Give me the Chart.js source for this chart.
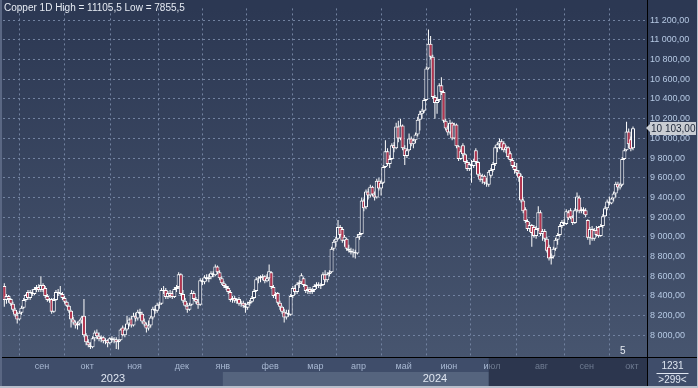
<!DOCTYPE html>
<html>
<head>
<meta charset="utf-8">
<script src="https://cdn.jsdelivr.net/npm/chart.js@4.4.1/dist/chart.umd.min.js"></script>
<style>
    html, body { margin: 0; padding: 0; background: #3f4d6a; }
    #wrap { position: relative; width: 698px; height: 388px; }
</style>
</head>
<body>
<div id="wrap"><canvas id="chart" width="698" height="388"></canvas></div>
<script>
// daily candles, Aug 2023 .. 1 Oct 2024 (one line per month)
const opens = [
    8500,8360,8400,8370,8320,8260,8210,8160,8230,8280,8360,8440,8380,8440,8420,8470,8490,8460,
    8510,8480,8400,8360,8370,8240,8360,8440,8430,8420,8380,8340,8300,8250,8160,8130,8100,8120,8150,8200,8000,
    7930,7900,7880,7970,8030,7990,7960,7980,7940,7950,7920,7970,7950,7960,7930,7950,8080,8000,8060,8120,8170,8100,
    8200,8170,8240,8220,8140,8110,8070,8100,8180,8270,8250,8310,8320,8460,8460,8390,8430,8430,8390,8470,8490,8620,
    8420,8350,8300,8260,8310,8430,8370,8340,8310,8560,8540,8590,8570,8590,8630,8610,8700,8640,8580,
    8530,8500,8480,8440,8360,8380,8350,8370,8320,8330,8300,8280,8320,8340,8380,8450,8570,8580,8600,8600,8550,8580,
    8640,8490,8400,8430,8330,8290,8240,8180,8230,8210,8400,8480,8440,8520,8540,8580,8510,8450,8470,8440,8460,
    8500,8520,8500,8510,8620,8560,8620,8640,8880,8950,8980,9100,9080,8960,8980,8880,8860,8840,8850,8830,
    9000,9030,9370,9300,9460,9420,9510,9430,9400,9570,9490,9550,9710,9870,9740,9790,9930,9900,10120,10000,10130,
    9900,9820,9880,10000,9940,9980,10040,10190,10250,10280,10390,10710,10960,10830,10420,10360,10390,10540,10470,10180,10100,
    10060,10160,10000,10140,9920,9790,9930,9840,9760,9690,9740,9720,9880,9760,9630,9580,9620,9550,9530,9620,
    9680,9740,9900,9940,9970,9950,9880,9910,9850,9780,9720,9680,9650,9620,9370,9280,9160,9080,9120,9100,9010,9080,9250,
    9030,9060,8980,8900,8780,8800,8880,8970,9020,9110,9150,9130,9250,9270,9200,9140,9270,9400,9260,9280,9270,
    9170,8990,9080,8980,9070,9100,9010,9110,9210,9290,9360,9340,9390,9440,9540,9500,9530,9790,9880,10070,9990,
    9900
];
const highs = [
    8530,8420,8410,8380,8340,8280,8240,8250,8300,8380,8420,8460,8460,8470,8490,8510,8520,8600,
    8530,8500,8420,8380,8380,8380,8460,8470,8500,8440,8400,8350,8310,8260,8190,8150,8140,8160,8200,8370,8020,
    7960,7930,7990,8050,8060,8030,8000,7990,7970,7960,7980,7990,7980,7980,7960,8070,8100,8080,8200,8180,8200,8230,
    8230,8260,8270,8240,8170,8130,8150,8200,8290,8300,8330,8340,8480,8500,8480,8450,8460,8450,8490,8510,8640,8630,
    8460,8380,8330,8330,8460,8450,8390,8370,8580,8580,8610,8620,8620,8650,8650,8720,8710,8660,8600,
    8550,8520,8500,8460,8400,8400,8380,8390,8350,8350,8330,8340,8360,8400,8470,8590,8600,8610,8620,8610,8620,8720,
    8650,8510,8440,8440,8350,8300,8270,8260,8260,8420,8500,8510,8540,8560,8630,8590,8520,8490,8490,8480,8520,
    8540,8540,8530,8640,8660,8640,8660,8900,8970,9000,9170,9120,9100,9020,8990,8920,8890,8880,8870,9030,
    9050,9400,9390,9480,9490,9530,9520,9460,9590,9600,9580,9730,9980,9900,9830,9950,9960,10160,10180,10200,10140,
    9930,9900,10050,10020,10000,10060,10220,10280,10300,10410,10730,11105,11040,10850,10440,10420,10560,10620,10490,10200,10130,
    10190,10170,10160,10150,9930,9890,9950,9850,9780,9760,9780,9790,9900,9770,9650,9640,9630,9600,9680,9700,
    9760,9930,9960,10000,9990,9970,9930,9920,9870,9800,9760,9750,9680,9640,9390,9300,9180,9150,9130,9120,9110,9310,9270,
    9080,9080,9000,8920,8830,8900,8990,9040,9130,9170,9180,9280,9270,9290,9220,9290,9450,9420,9300,9300,9290,
    9180,9100,9110,9090,9110,9110,9130,9230,9310,9380,9410,9400,9460,9560,9560,9550,9810,9900,10170,10100,10020,
    10120
];
const lows = [
    8290,8320,8330,8300,8240,8190,8120,8150,8210,8270,8340,8360,8360,8400,8410,8440,8440,8440,
    8440,8380,8340,8330,8220,8230,8350,8400,8410,8360,8320,8290,8230,8080,8110,8070,8060,8100,8120,7980,7900,
    7880,7860,7870,7940,7960,7940,7930,7920,7910,7880,7910,7930,7920,7860,7856,7940,7990,7980,8050,8090,8080,8090,
    8140,8150,8190,8120,8090,8030,8050,8080,8160,8220,8230,8270,8310,8420,8370,8370,8380,8370,8380,8440,8470,8400,
    8330,8290,8230,8250,8300,8350,8320,8270,8300,8510,8520,8550,8540,8570,8590,8600,8620,8560,8510,
    8480,8460,8420,8340,8330,8330,8320,8300,8290,8280,8230,8260,8300,8330,8370,8440,8530,8540,8560,8530,8540,8570,
    8470,8380,8370,8310,8260,8220,8130,8160,8190,8200,8380,8410,8420,8480,8520,8490,8430,8420,8420,8420,8440,
    8470,8480,8470,8500,8540,8540,8600,8630,8860,8900,8970,9000,8940,8900,8860,8840,8820,8790,8780,8820,
    8970,9020,9260,9280,9380,9400,9410,9370,9390,9470,9420,9540,9700,9720,9700,9780,9860,9890,9960,9980,9880,
    9730,9800,9870,9920,9900,9950,10020,10080,10200,10260,10380,10700,10800,10400,10200,10250,10370,10440,10160,10080,10030,
    10040,9980,9990,9900,9770,9780,9820,9740,9670,9670,9550,9700,9740,9610,9560,9540,9530,9510,9510,9600,
    9660,9720,9860,9890,9880,9860,9850,9790,9760,9700,9640,9620,9560,9350,9240,9140,9060,9050,8900,8990,8980,9060,9010,
    8960,8950,8840,8760,8720,8780,8860,8920,9000,9090,9110,9120,9170,9180,9120,9130,9250,9240,9240,9230,9200,
    8970,8920,8960,8960,9000,8990,9000,9090,9200,9270,9320,9330,9360,9400,9470,9480,9520,9780,9870,9900,9870,
    9880
];
const closes = [
    8360,8400,8370,8320,8260,8210,8160,8230,8280,8360,8410,8380,8440,8420,8470,8490,8460,8510,
    8460,8400,8360,8350,8240,8360,8440,8430,8420,8380,8340,8300,8250,8160,8130,8100,8120,8150,8180,8000,7930,
    7900,7880,7970,8030,7990,7960,7980,7940,7950,7920,7970,7950,7960,7930,7950,8060,8000,8060,8120,8160,8100,8200,
    8170,8240,8220,8140,8110,8070,8100,8180,8270,8250,8310,8320,8460,8450,8390,8430,8400,8390,8470,8490,8620,8420,
    8350,8300,8260,8310,8430,8370,8340,8310,8560,8540,8590,8570,8590,8630,8610,8700,8640,8580,8530,
    8500,8480,8440,8360,8380,8350,8370,8320,8330,8300,8280,8320,8340,8380,8450,8570,8580,8600,8590,8550,8580,8650,
    8490,8400,8420,8330,8290,8240,8180,8230,8210,8400,8480,8440,8520,8540,8610,8510,8450,8470,8440,8460,8500,
    8520,8500,8510,8620,8560,8620,8640,8880,8950,8980,9100,9020,8960,9000,8880,8860,8840,8850,8830,9000,
    9030,9370,9290,9460,9420,9510,9430,9400,9570,9490,9550,9710,9870,9740,9790,9930,9900,10120,10000,10130,9900,
    9820,9880,10000,9940,9980,10040,10190,10250,10280,10390,10710,10960,10830,10420,10360,10390,10540,10470,10180,10100,10060,
    10160,10000,10140,9920,9790,9870,9840,9760,9690,9740,9720,9770,9760,9630,9580,9620,9550,9540,9660,9680,
    9740,9910,9940,9970,9900,9880,9910,9810,9780,9720,9680,9650,9600,9370,9260,9160,9080,9120,9040,9010,9080,9250,9030,
    9060,8980,8860,8780,8800,8880,8970,9020,9110,9150,9130,9260,9190,9200,9140,9270,9410,9260,9280,9260,9220,
    8990,9080,8980,9070,9020,9010,9110,9210,9290,9360,9340,9390,9440,9540,9500,9530,9790,9880,10070,9940,9890,
    10103
];

const monthLabels = ['сен', 'окт', 'ноя', 'дек', 'янв', 'фев', 'мар', 'апр', 'май', 'июн', 'июл', 'авг', 'сен', 'окт'];
const monthStart = [18, 39, 61, 83, 102, 124, 145, 165, 186, 207, 227, 250, 271, 292];
const yearLabels = ['2023', '2024'];
const yearBreak = 102;    // first candle of 2024
const shadeFrom = 225;    // start of the darkened part of the time strip
const yTicks = [8000, 8200, 8400, 8600, 8800, 9000, 9200, 9400, 9600, 9800, 10000, 10200, 10400, 10600, 10800, 11000, 11200];

const FONT = '"Liberation Sans", Arial, sans-serif';

function fmtPrice(v) {
    const s = String(Math.round(v));
    return s.slice(0, -3) + ' ' + s.slice(-3) + ',00';
}

const idx = opens.map((_, i) => i);
const wickData = idx.map(i => ({ x: i, y: [lows[i], highs[i]] }));
const bodyData = idx.map(i => ({ x: i, y: [Math.min(opens[i], closes[i]), Math.max(opens[i], closes[i])] }));
const bodyFill = idx.map(i => closes[i] < opens[i] ? '#b2354f' : '#34415e');

const chrome = {
    id: 'chrome',
    beforeDraw(chart) {
        const { ctx, chartArea: a, width, height } = chart;
        const xs = chart.scales.x;
        ctx.save();
        const g = ctx.createLinearGradient(0, a.top, 0, a.bottom);
        g.addColorStop(0, '#2c3853');
        g.addColorStop(1, '#47556f');
        ctx.fillStyle = g;
        ctx.fillRect(0, 0, width, a.bottom);
        ctx.fillStyle = '#3f4d6a';
        ctx.fillRect(0, a.bottom, width, height - a.bottom);
        // lighter band under "2024"
        const split = xs.getPixelForValue(yearBreak - 0.5);
        const shade = xs.getPixelForValue(shadeFrom);
        ctx.fillStyle = '#55647e';
        ctx.fillRect(split, a.bottom + 15, shade - split, height - a.bottom - 17);
        ctx.restore();
    },
    afterDraw(chart) {
        const { ctx, chartArea: a, width, height } = chart;
        const xs = chart.scales.x;
        const ys = chart.scales.y;
        ctx.save();

        // year labels
        const split = xs.getPixelForValue(yearBreak - 0.5);
        ctx.font = '11px ' + FONT;
        ctx.fillStyle = '#dfe6f1';
        ctx.textAlign = 'center';
        ctx.textBaseline = 'middle';
        ctx.fillText(yearLabels[0], (a.left + split) / 2, a.bottom + 22);
        ctx.fillText(yearLabels[1], (split + a.right) / 2, a.bottom + 22);

        // darkened tail of the time strip
        const shade = xs.getPixelForValue(shadeFrom);
        ctx.fillStyle = 'rgba(12,18,34,0.38)';
        ctx.fillRect(shade, a.bottom, a.right - shade, height - a.bottom - 2);

        // separators
        ctx.fillStyle = '#000';
        ctx.fillRect(a.right, 0, 1, height);
        ctx.fillRect(0, a.bottom, width, 1);

        // bar counter box
        ctx.fillStyle = '#dfe6f1';
        ctx.font = '10px ' + FONT;
        const cx = (a.right + width) / 2;
        ctx.fillText('1231', cx, a.bottom + 9);
        ctx.fillRect(cx - 16, a.bottom + 16, 32, 1);
        ctx.fillText('>299<', cx, a.bottom + 23);

        // last price tag
        const last = closes[closes.length - 1];
        const py = Math.round(ys.getPixelForValue(last));
        ctx.fillStyle = '#c9cdd3';
        ctx.fillRect(a.right + 3, py - 6, width - a.right - 5, 13);
        ctx.beginPath();
        ctx.moveTo(a.right - 1, py);
        ctx.lineTo(a.right + 3, py - 4);
        ctx.lineTo(a.right + 3, py + 4);
        ctx.closePath();
        ctx.fill();
        ctx.fillStyle = '#1c2537';
        ctx.textAlign = 'left';
        ctx.font = '10px ' + FONT;
        ctx.fillText(fmtPrice(last), a.right + 4, py + 1);

        // title
        ctx.fillStyle = '#e6ebf3';
        ctx.font = '10px ' + FONT;
        ctx.fillText('Copper 1D High = 11105,5 Low = 7855,5', 4, 8);

        ctx.fillText('5', a.right - 27, a.bottom - 6);

        // window frame
        ctx.fillStyle = '#b7bfcb';
        ctx.fillRect(0, height - 2, width, 2);
        ctx.fillRect(width - 1, 0, 1, height);
        ctx.fillStyle = '#5a6783';
        ctx.fillRect(0, 0, 2, height - 2);
        ctx.restore();
    }
};

new Chart(document.getElementById('chart'), {
    type: 'bar',
    data: {
        datasets: [
            {
                data: bodyData,
                backgroundColor: bodyFill,
                borderColor: '#ffffff',
                borderWidth: 1,
                borderSkipped: false,
                barThickness: 4,
                inflateAmount: 0,
                grouped: false,
                order: 0
            },
            {
                data: wickData,
                backgroundColor: '#ffffff',
                borderWidth: 0,
                barThickness: 1,
                inflateAmount: 0,
                grouped: false,
                order: 1
            }
        ]
    },
    options: {
        responsive: false,
        animation: false,
        layout: { padding: { left: 3, top: 3 } },
        plugins: { legend: { display: false }, tooltip: { enabled: false } },
        scales: {
            x: {
                type: 'linear',
                min: -0.6,
                max: 298.5,
                offset: false,
                afterBuildTicks: s => { s.ticks = monthStart.map(v => ({ value: v - 0.5 })); },
                afterFit: s => { s.height = 31; },
                grid: { color: '#7282a0', drawTicks: false },
                border: { display: false, dash: [2, 3] },
                ticks: {
                    autoSkip: false,
                    maxRotation: 0,
                    padding: 4,
                    color: '#a8b8d2',
                    font: { family: FONT, size: 9 },
                    callback: (v, i) => monthLabels[i]
                }
            },
            y: {
                type: 'linear',
                position: 'right',
                min: 7780,
                max: 11320,
                afterBuildTicks: s => { s.ticks = yTicks.map(v => ({ value: v })); },
                afterFit: s => { s.width = 51; },
                grid: { color: '#7282a0', drawTicks: false },
                border: { display: false, dash: [2, 3] },
                ticks: {
                    padding: 3,
                    color: '#b5c8e3',
                    font: { family: FONT, size: 9 },
                    callback: v => fmtPrice(v)
                }
            }
        }
    },
    plugins: [chrome]
});
</script>
</body>
</html>
